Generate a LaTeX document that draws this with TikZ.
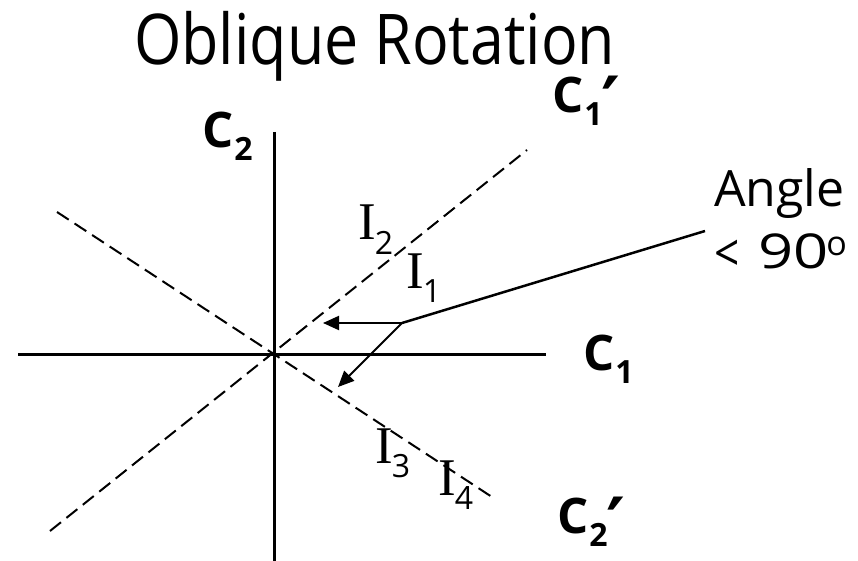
\documentclass[tikz,border=0pt]{standalone}
\usepackage{fontspec}
\setmainfont{Open Sans}
\newfontfamily\serifI{Liberation Serif}
\newfontfamily\primefont{DejaVu Sans}
\usetikzlibrary{arrows.meta}
\newcommand{\Ilab}[1]{{\serifI\fontsize{53}{53}\selectfont I}\kern-1pt\lower14pt\hbox{\fontsize{32}{32}\selectfont #1}}
\newcommand{\Clab}[2]{{\fontsize{49}{49}\selectfont\bfseries C}\kern1pt\lower13pt\hbox{\fontsize{32}{32}\selectfont\bfseries #1}#2}
\newcommand{\primemark}{\kern-1pt\smash{\raisebox{-16pt}{\primefont\fontsize{72}{72}\selectfont\bfseries ′}}}
\begin{document}
\begin{tikzpicture}[x=1pt,y=-1pt,
  axis/.style={line width=3pt},
  rotaxis/.style={line width=2pt, dash pattern=on 14pt off 7pt},
  vec/.style={line width=2pt,-{Triangle[length=16pt,width=14pt]}},
  pointer/.style={line width=2.5pt},
  lbl/.style={inner sep=0pt, anchor=base west}]
\useasboundingbox (0,0) rectangle (858,561);
% axes
\coordinate (o) at (274,354);
\coordinate (xl) at (18,354);
\coordinate (xr) at (546,354);
\coordinate (yt) at (274,132);
\coordinate (yb) at (274,561);
\draw[axis] (xl) -- (xr);
\draw[axis] (yt) -- (yb);
% rotated axes
\coordinate (c1a) at (50,531);
\coordinate (c1b) at (527,150);
\coordinate (c2a) at (57,212);
\coordinate (c2b) at (492,497);
\draw[rotaxis] (c1a) -- (c1b);
\draw[rotaxis] (c2a) -- (c2b);
% angle arrows
\coordinate (j) at (402,323);
\coordinate (t1) at (323,323);
\coordinate (t2) at (338,387);
\coordinate (pe) at (705,231);
\draw[vec] (j) -- (t1);
\draw[vec] (j) -- (t2);
\draw[pointer] (j) -- (pe);
% texts
\node[lbl] (title) at (134,65) {\raisebox{0pt}[\height][0pt]{\scalebox{0.87}[1]{\fontsize{70}{70}\selectfont Oblique Rotation}}};
\node[lbl] (ang1) at (714,207) {\fontsize{50}{50}\selectfont Angle};
\node[lbl] (ang2) at (714,268) {\fontsize{48}{48}\selectfont \makebox[44pt][l]{\raisebox{-3pt}{\scalebox{0.92}[1.08]{<}}}\scalebox{1.28}[1]{90}\kern-2pt\raisebox{13pt}{\fontsize{34}{34}\selectfont o}};
\node[lbl] (C2) at (202,148) {\Clab{2}{}};
\node[lbl] (C1) at (583,370) {\Clab{1}{}};
\node[lbl] (C1p) at (552,113) {\Clab{1}{\primemark}};
\node[lbl] (C2p) at (557,533) {\Clab{2}{\primemark}};
\node[lbl] (I2) at (358,240) {\Ilab{2}};
\node[lbl] (I1) at (406,288) {\Ilab{1}};
\node[lbl] (I3) at (375,463) {\Ilab{3}};
\node[lbl] (I4) at (438,495) {\Ilab{4}};
\end{tikzpicture}
\end{document}
